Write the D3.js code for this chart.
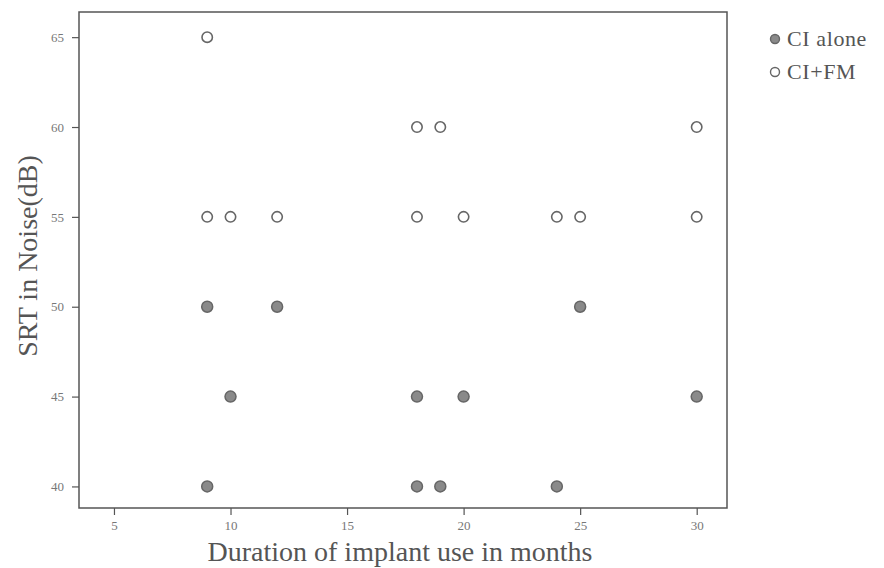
<!DOCTYPE html>
<html>
<head>
<meta charset="utf-8">
<script src="https://cdn.jsdelivr.net/npm/d3@7"></script>
<style>
  body { margin: 0; background: #fff; }
  text { font-family: "Liberation Serif", "DejaVu Serif", serif; }
</style>
</head>
<body>
<div id="chart"></div>
<script>
// data: duration (months) and SRT in noise (dB)
const alone_x = [9, 12, 25, 10, 18, 20, 30, 9, 18, 19, 24];
const alone_y = [50, 50, 50, 45, 45, 45, 45, 40, 40, 40, 40];
const fm_x = [9, 18, 19, 30, 9, 10, 12, 18, 20, 24, 25, 30];
const fm_y = [65, 60, 60, 60, 55, 55, 55, 55, 55, 55, 55, 55];
const x_ticks = [5, 10, 15, 20, 25, 30];
const y_ticks = [40, 45, 50, 55, 60, 65];
const legend_labels = ["CI alone", "CI+FM"];

const width = 884, height = 568;
const margin = {top: 12, right: 157, bottom: 60, left: 79};

const svg = d3.select("#chart")
  .append("svg")
    .attr("width", width)
    .attr("height", height);

const x = d3.scaleLinear()
  .domain([3.5, 31.3])
  .range([margin.left, width - margin.right]);

const y = d3.scaleLinear()
  .domain([38.8, 66.4])
  .range([height - margin.bottom, margin.top]);

// frame
svg.append("rect")
  .attr("x", margin.left)
  .attr("y", margin.top)
  .attr("width", width - margin.left - margin.right)
  .attr("height", height - margin.top - margin.bottom)
  .attr("fill", "none")
  .attr("stroke", "#555")
  .attr("stroke-width", 1.5);

// axes
const xAxis = svg.append("g")
  .attr("transform", `translate(0, ${height - margin.bottom})`)
  .call(d3.axisBottom(x).tickValues(x_ticks).tickSize(7).tickPadding(6));

const yAxis = svg.append("g")
  .attr("transform", `translate(${margin.left}, 0)`)
  .call(d3.axisLeft(y).tickValues(y_ticks).tickSize(7).tickPadding(8));

[xAxis, yAxis].forEach(function(g) {
  g.select(".domain").remove();
  g.selectAll(".tick line").attr("stroke", "#555").attr("stroke-width", 1.2);
  g.selectAll(".tick text")
    .attr("fill", "#777")
    .style("font-family", "'Liberation Serif', serif")
    .style("font-size", "13px");
});

// axis titles
svg.append("text")
  .attr("x", 400)
  .attr("y", 561)
  .attr("text-anchor", "middle")
  .attr("fill", "#555")
  .style("font-size", "28px")
  .text("Duration of implant use in months");

svg.append("text")
  .attr("transform", "translate(37, 256) rotate(-90)")
  .attr("text-anchor", "middle")
  .attr("fill", "#555")
  .style("font-size", "28px")
  .text("SRT in Noise(dB)");

// points: CI alone (filled)
svg.selectAll("circle.alone")
  .data(d3.zip(alone_x, alone_y))
  .join("circle")
    .attr("class", "alone")
    .attr("cx", function(d) { return x(d[0]); })
    .attr("cy", function(d) { return y(d[1]); })
    .attr("r", 5.5)
    .attr("fill", "#8a8a8a")
    .attr("stroke", "#666")
    .attr("stroke-width", 1.5);

// points: CI+FM (open)
svg.selectAll("circle.fm")
  .data(d3.zip(fm_x, fm_y))
  .join("circle")
    .attr("class", "fm")
    .attr("cx", function(d) { return x(d[0]); })
    .attr("cy", function(d) { return y(d[1]); })
    .attr("r", 5.2)
    .attr("fill", "#fff")
    .attr("stroke", "#666")
    .attr("stroke-width", 1.6);

// legend
const legend = svg.selectAll("g.legend")
  .data(legend_labels)
  .join("g")
    .attr("class", "legend")
    .attr("transform", function(d, i) { return `translate(775, ${39 + i * 33})`; });

legend.append("circle")
  .attr("r", 4.5)
  .attr("fill", function(d, i) { return i === 0 ? "#8a8a8a" : "#fff"; })
  .attr("stroke", "#666")
  .attr("stroke-width", 1.4);

legend.append("text")
  .attr("x", 12)
  .attr("y", 7)
  .attr("fill", "#555")
  .style("font-size", "22px")
  .style("letter-spacing", "0.6px")
  .text(function(d) { return d; });
</script>
</body>
</html>
